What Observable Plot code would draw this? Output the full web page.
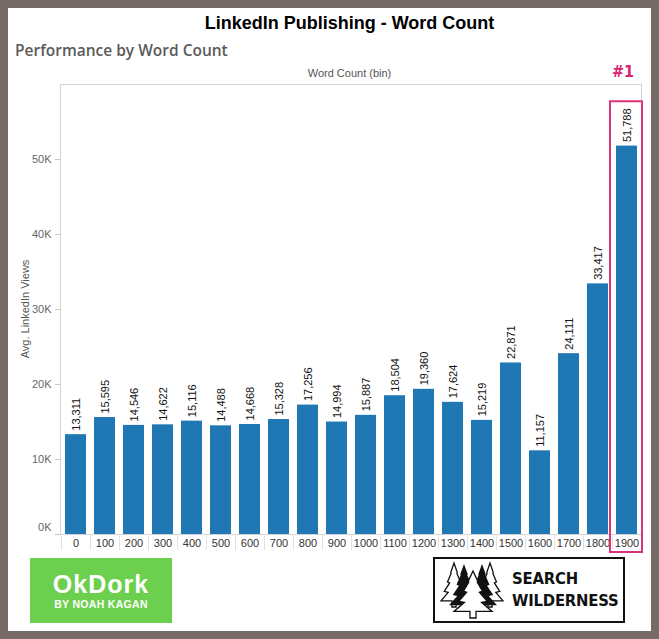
<!DOCTYPE html>
<html><head><meta charset="utf-8">
<script src="https://cdn.jsdelivr.net/npm/d3@7"></script>
<script src="https://cdn.jsdelivr.net/npm/@observablehq/plot@0.6"></script>
<style>
body{margin:0;}
#page{position:relative;width:659px;height:639px;background:#776b67;overflow:hidden;font-family:"Liberation Sans",Arial,sans-serif;}
#inner{position:absolute;left:8px;top:8px;width:643px;height:623px;background:#fff;}
.abs{position:absolute;white-space:nowrap;}
#title{left:0;width:699px;top:13px;text-align:center;font-weight:bold;font-size:18px;color:#000;}
#subtitle{left:15px;top:39px;font-family:"Open Sans",sans-serif;font-weight:600;font-size:15.5px;color:#5a5a5a;}
#xlab{left:0;width:699px;top:67px;text-align:center;font-size:11px;color:#555;}
#num1{left:612px;top:62px;font-weight:bold;font-size:16px;color:#d6246e;font-family:"Liberation Sans Narrow","DejaVu Sans Condensed",sans-serif;}
#ylab{left:25px;top:309px;transform:translate(-50%,-50%) rotate(-90deg);font-size:11px;color:#555;}
#chart{position:absolute;left:0;top:60px;}
#okdork{left:30px;top:558px;width:142px;height:65px;background:#6ccf4e;color:#fff;}
#okdork div{position:absolute;left:0;width:142px;text-align:center;font-family:"Liberation Sans",Arial,sans-serif;font-weight:700;line-height:1;}
#okdork .big{top:14px;font-size:25px;letter-spacing:1px;}
#okdork .small{top:41px;font-size:10.5px;letter-spacing:0.3px;}
#sw{left:433px;top:557px;width:188px;height:62px;border:2px solid #111;background:#fff;}
#sw .t{position:absolute;left:77px;line-height:1;font-family:"DejaVu Sans Condensed","Liberation Sans Narrow",sans-serif;font-weight:bold;font-size:16.5px;color:#111;letter-spacing:-0.2px;}
</style></head>
<body>
<div id="page">
  <div id="inner"></div>
  <div id="title" class="abs">LinkedIn Publishing - Word Count</div>
  <div id="subtitle" class="abs">Performance by Word Count</div>
  <div id="xlab" class="abs">Word Count (bin)</div>
  <div id="num1" class="abs">#1</div>
  <div id="ylab" class="abs">Avg. LinkedIn Views</div>
  <div id="chart"></div>
  <div id="okdork" class="abs"><div class="big">OkDork</div><div class="small">BY NOAH KAGAN</div></div>
  <div id="sw" class="abs">
    <svg id="trees" width="72" height="62" style="position:absolute;left:4px;top:0"></svg>
    <div class="t" style="top:12px">SEARCH</div>
    <div class="t" style="top:34px">WILDERNESS</div>
  </div>
</div>
<script>
const bins = ["0","100","200","300","400","500","600","700","800","900","1000","1100","1200","1300","1400","1500","1600","1700","1800","1900"];
const views = [13311,15595,14546,14622,15116,14488,14668,15328,17256,14994,15887,18504,19360,17624,15219,22871,11157,24111,33417,51788];
const yTicks = [10000,20000,30000,40000,50000];
const zeroTick = [0];
const highlight = ["1900"];

const data = bins.map((b,i)=>({bin:b, views:views[i]}));
const fmt = d3.format(",");

const chart = Plot.plot({
  width:659, height:500,
  marginLeft:60, marginRight:18, marginTop:24, marginBottom:26,
  style:{fontFamily:"Liberation Sans, Arial, sans-serif", fontSize:"11px", background:"transparent", overflow:"visible"},
  x:{domain:bins, paddingInner:0.28, paddingOuter:0.14, label:null},
  y:{domain:[0,60000], label:null},
  marks:[
    Plot.barY(data,{x:"bin", y:"views", fill:"#1f77b4"}),
    Plot.frame({stroke:"#d4d4d4"}),
    Plot.axisY(yTicks.concat(zeroTick),{text:null, tickSize:5, color:"#c8c8c8", label:null}),
    Plot.axisY(yTicks,{tickSize:0, tickPadding:9, tickFormat:d=>d/1000+"K", color:"#666", fontSize:11, label:null}),
    Plot.axisY(zeroTick,{tickSize:0, tickPadding:9, dy:-7, tickFormat:d=>d/1000+"K", color:"#666", fontSize:11, label:null}),
    Plot.axisX({tickSize:0, tickPadding:5, color:"#333", fontSize:11, label:null}),
    Plot.axisX({text:null, tickSize:16, dx:-14.5, color:"#e2e2e2", label:null}),
    Plot.text(data,{x:"bin", y:"views", text:d=>fmt(d.views), rotate:-90, textAnchor:"start", dy:-4, fill:"#111", fontSize:11}),
    Plot.barY(highlight.map(b=>({bin:b})),{x:"bin", y1:-2400, y2:57700, fill:"none", stroke:"#d9347a", strokeWidth:2, insetLeft:-6, insetRight:-5})
  ]
});
document.getElementById("chart").appendChild(chart);

// decorative logo trees
function tree(cx, t, w, h){
  const tiers = 4, pts = [[cx, t]];
  const right = [];
  for(let i=1;i<=tiers;i++){
    const y = t + h*0.86*i/tiers, hw = w/2*i/tiers;
    if(i>1) right.push([cx + hw*0.45, y - h*0.86/tiers + 1]);
    right.push([cx + hw, y]);
  }
  const tw = w*0.08, tb = t + h;
  const left = right.slice().reverse().map(([x,y])=>[2*cx-x,y]);
  const all = pts.concat(right, [[cx+tw, right[right.length-1][1]],[cx+tw,tb],[cx-tw,tb],[cx-tw,right[right.length-1][1]]], left);
  return "M" + all.map(p=>p.join(",")).join("L") + "Z";
}
const svgT = document.getElementById("trees");
svgT.innerHTML =
  `<path d="${tree(15,4,26,44)}" fill="#fff" stroke="#111" stroke-width="1.3"/>` +
  `<path d="${tree(51,4,26,44)}" fill="#fff" stroke="#111" stroke-width="1.3"/>` +
  `<path d="${tree(25,5,30,48)}" fill="#111"/>` +
  `<path d="${tree(43,5,30,48)}" fill="#111"/>` +
  `<path d="${tree(34,12,38,47)}" fill="#fff" stroke="#111" stroke-width="1.3"/>`;
</script>
</body></html>
